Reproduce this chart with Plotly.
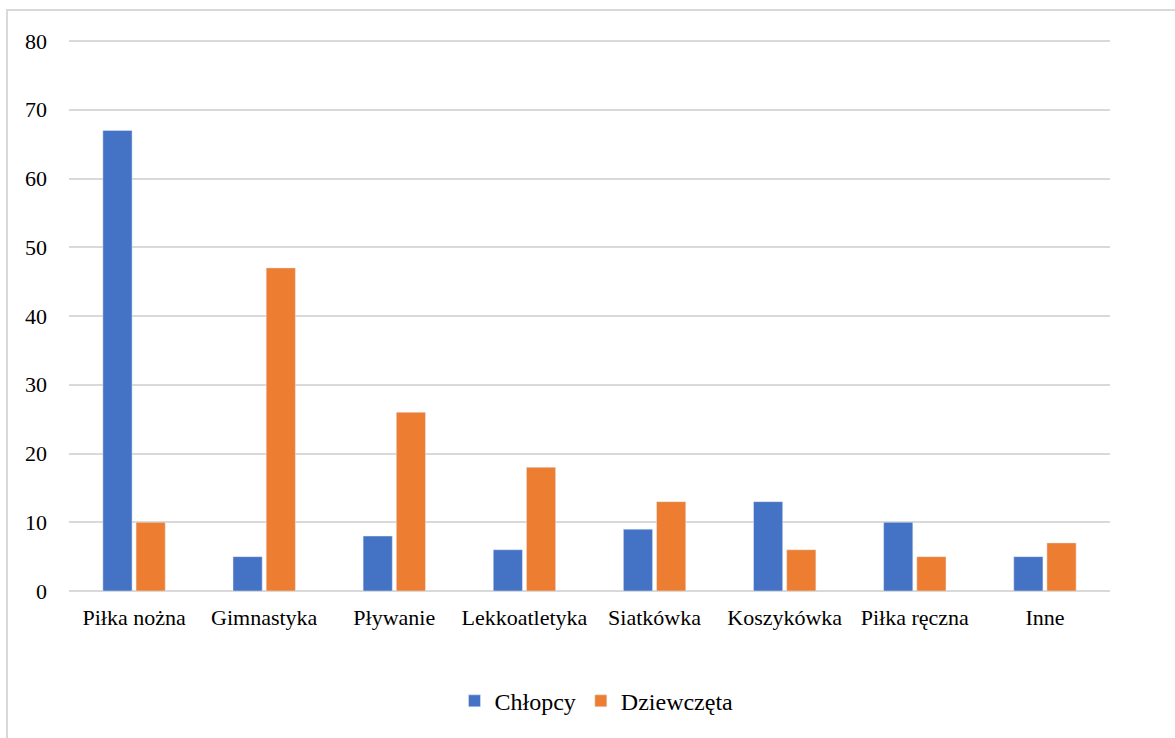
import plotly.graph_objects as go

categories = ["Piłka nożna", "Gimnastyka", "Pływanie", "Lekkoatletyka", "Siatkówka", "Koszykówka", "Piłka ręczna", "Inne"]
chlopcy = [67, 5, 8, 6, 9, 13, 10, 5]
dziewczeta = [10, 47, 26, 18, 13, 6, 5, 7]
series_names = ["Chłopcy", "Dziewczęta"]
y_ticks = [0, 10, 20, 30, 40, 50, 60, 70, 80]

FONT = "Liberation Serif, Times New Roman, serif"

fig = go.Figure()
fig.add_trace(go.Bar(x=categories, y=chlopcy, name=series_names[0], marker_color="#4472C4"))
fig.add_trace(go.Bar(x=categories, y=dziewczeta, name=series_names[1], marker_color="#ED7D31"))

L, R, T, B = 69, 1110, 41, 591
W, H = 1175, 738

fig.update_layout(
    width=W, height=H,
    margin=dict(l=L, r=W - R, t=T - 1, b=H - B, autoexpand=False),
    paper_bgcolor="white", plot_bgcolor="white",
    barmode="group", bargap=0.49, bargroupgap=0.12,
    font=dict(family=FONT, size=22, color="black"),
    showlegend=True,
    legend=dict(orientation="h", x=0.5 + 7 / (R - L), xanchor="center", y=(B - 701) / (B - T), yanchor="middle",
                font=dict(family=FONT, size=24, color="black"), traceorder="normal", itemwidth=30),
    xaxis=dict(showgrid=False, showline=False, ticks="", tickfont=dict(family=FONT, size=22),
               ticklabelstandoff=11),
    yaxis=dict(range=[0, 80.15], tickvals=y_ticks, showgrid=True, gridcolor="#d9d9d9", gridwidth=1.5,
               zeroline=True, zerolinecolor="#d9d9d9", zerolinewidth=1.5, showline=False,
               ticks="", tickfont=dict(family=FONT, size=22), ticklabelstandoff=21),
    shapes=[dict(type="rect", xref="paper", yref="paper",
                 x0=(7 - L) / (R - L), x1=1.3, y0=-1.0, y1=(B - 11) / (B - T),
                 line=dict(color="#d9d9d9", width=2), fillcolor="rgba(0,0,0,0)", layer="below")],
)

fig.write_html("out.html")
